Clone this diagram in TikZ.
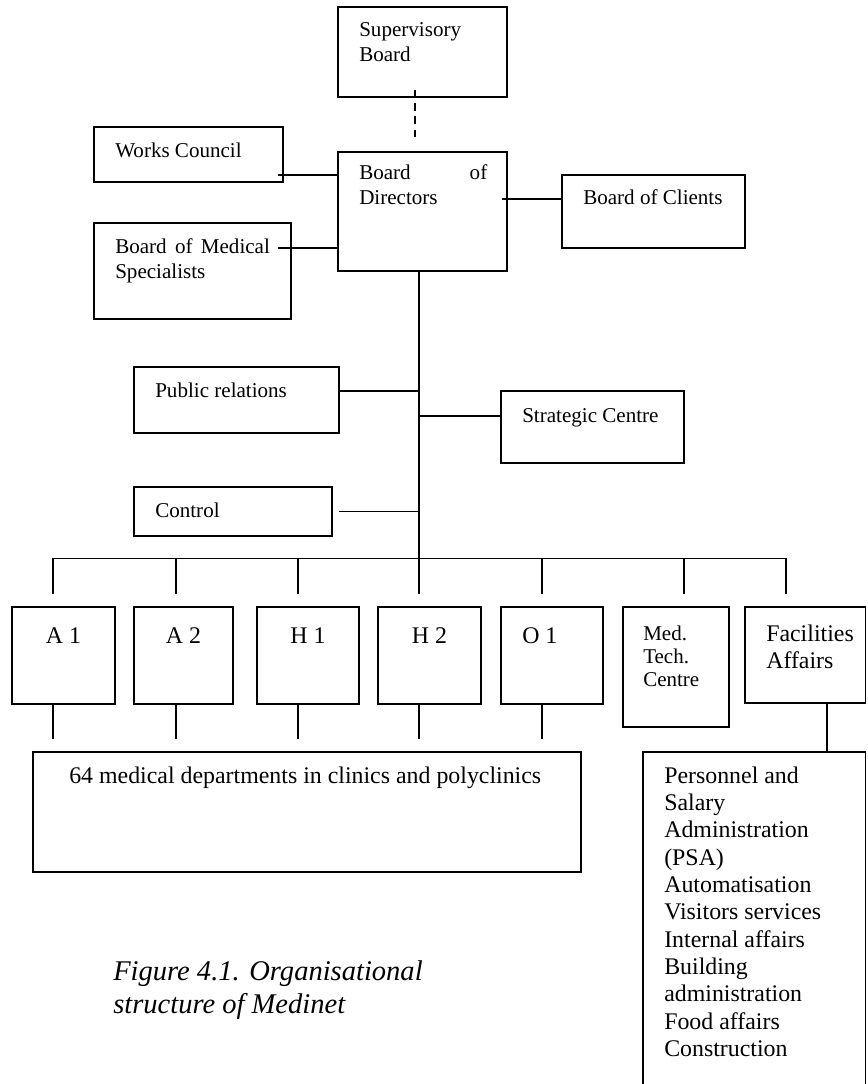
\documentclass[tikz,border=0pt]{standalone}
\usepackage{fontspec}
\setmainfont{Liberation Serif}
\usetikzlibrary{fit,calc}
\newcommand\szS{\fontsize{15.8pt}{18.75pt}\selectfont}
\newcommand\szL{\fontsize{17.9pt}{20.5pt}\selectfont}
\newcommand\szM{\fontsize{15.75pt}{17.6pt}\selectfont}
\newcommand\szC{\fontsize{21.4pt}{24.75pt}\selectfont\itshape}
\newcommand\mlines[1]{\begin{tabular}[t]{@{}l@{}}#1\end{tabular}}
\begin{document}
\begin{tikzpicture}[x=0.75pt,y=-0.75pt,
  box/.style={draw,line width=0.8pt,inner sep=0pt},
  txt/.style={inner sep=0pt,anchor=base west,font=\szS},
  ln/.style={line width=0.8pt},
  dsh/.style={line width=0.8pt,dash pattern=on 6pt off 4pt}]
\useasboundingbox (0,0) rectangle (867,1084);
% top level boxes
\node[box,fit={(338,7)(507,97)}] (sup) {};
\node[txt] (supT) at (359,37) {\mlines{Supervisory\\Board}};
\node[box,fit={(94,127)(283,182)}] (wc) {};
\node[txt] (wcT) at (115,158) {Works Council};
\node[box,fit={(338,152)(507,271)}] (bod) {};
\node[txt] (bodT) at (359,180) {\mlines{\makebox[96pt][s]{Board of}\\Directors}};
\node[box,fit={(562,175)(745,248)}] (boc) {};
\node[txt] (bocT) at (583,205) {Board of Clients};
\node[box,fit={(94,223)(291,319)}] (boms) {};
\node[txt] (bomsT) at (115,253) {\mlines{\makebox[116pt][s]{Board of Medical}\\Specialists}};
\node[box,fit={(134,367)(339,433)}] (pr) {};
\node[txt] (prT) at (155,397) {Public relations};
\node[box,fit={(501,391)(684,463)}] (sc) {};
\node[txt] (scT) at (522,422) {Strategic Centre};
\node[box,fit={(134,487)(332,536)}] (ctl) {};
\node[txt] (ctlT) at (155,517) {Control};
% unit boxes
\node[box,fit={(12,607)(115,704)}] (a1) {};
\node[txt,font=\szL,anchor=base] (a1T) at (63.5,643) {A 1};
\node[box,fit={(134,607)(233,704)}] (a2) {};
\node[txt,font=\szL,anchor=base] (a2T) at (183.5,643) {A 2};
\node[box,fit={(257,607)(359,704)}] (h1) {};
\node[txt,font=\szL,anchor=base] (h1T) at (308,643) {H 1};
\node[box,fit={(378,607)(481,704)}] (h2) {};
\node[txt,font=\szL,anchor=base] (h2T) at (429.5,643) {H 2};
\node[box,fit={(501,607)(603,704)}] (o1) {};
\node[txt,font=\szL] (o1T) at (522,643) {O 1};
\node[box,fit={(623,607)(729,727)}] (mtc) {};
\node[txt,font=\szM] (mtcT) at (643,640) {\mlines{Med.\\Tech.\\Centre}};
\node[box,fit={(745,607)(865.8,703)}] (fa) {};
\node[txt,font=\szL] (faT) at (766,641) {\mlines{Facilities\\Affairs}};
\node[box,fit={(33,752)(581,872)}] (med) {};
\node[txt,font=\szL] (medT) at (69,783) {64 medical departments in clinics and polyclinics};
\node[box,fit={(643,752)(865.8,1100)}] (sub) {};
\node[txt,font=\szL] (subT) at (664,783) {\mlines{Personnel and\\Salary\\Administration\\(PSA)\\Automatisation\\Visitors services\\Internal affairs\\Building\\administration\\Food affairs\\Construction}};
\node[txt,font=\szC] (cap) at (113,980) {\mlines{Figure 4.1. Organisational\\structure of Medinet}};
% connectors around the board
\draw[dsh] ([shift={(-7.5,-8)}]sup.south) -- ([shift={(-7.5,-14)}]bod.north);
\coordinate (wcJ) at ([shift={(-6,20.5)}]wc.east);
\draw[ln] (wcJ) -- (wcJ -| bod.west);
\coordinate (bomsJ) at ([shift={(-14,-23)}]boms.east);
\draw[ln] (bomsJ) -- (bomsJ -| bod.west);
\coordinate (bocJ) at ([shift={(-6,-12.5)}]bod.east);
\draw[ln] (bocJ) -- (bocJ -| boc.west);
% drops above units
\coordinate (a1d) at ([shift={(-10.5,-12)}]a1.north);
\coordinate (a2d) at ([shift={(-7.5,-12)}]a2.north);
\coordinate (h1d) at ([shift={(-10,-12)}]h1.north);
\coordinate (h2d) at ([shift={(-10.5,-12)}]h2.north);
\coordinate (o1d) at ([shift={(-10,-12)}]o1.north);
\coordinate (mtcd) at ([shift={(8,-12)}]mtc.north);
\coordinate (fad) at ([shift={(-19.4,-12)}]fa.north);
\coordinate (busL) at ($(a1d)+(0,-36)$);
\draw[ln] (busL) -- (busL -| fad);
\foreach \d in {a1d,a2d,h1d,h2d,o1d,mtcd,fad} \draw[ln] (\d) -- (\d |- busL);
% trunk and staff lines
\coordinate (trTop) at ([shift={(-3.5,0)}]bod.south);
\draw[ln] (trTop) -- (trTop |- busL);
\coordinate (prJ) at ([shift={(0,-9)}]pr.east);
\draw[ln] (prJ) -- (prJ -| trTop);
\coordinate (scJ) at ([shift={(0,-11)}]sc.west);
\draw[ln] (scJ -| trTop) -- (scJ);
\coordinate (ctlJ) at ([shift={(6,0)}]ctl.east);
\draw[ln] (ctlJ) -- (ctlJ -| trTop);
% drops below units
\foreach \u/\s in {a1/-10.5,a2/-7.5,h1/-10,h2/-10.5,o1/-10} {
  \coordinate (\u b) at ([shift={(\s,0)}]\u.south);
  \draw[ln] (\u b) -- ($(\u b |- med.north)+(0,-12)$);
}
\coordinate (faJ) at ([shift={(21.6,0)}]fa.south);
\draw[ln] (faJ) -- (faJ |- sub.north);
\end{tikzpicture}
\end{document}
